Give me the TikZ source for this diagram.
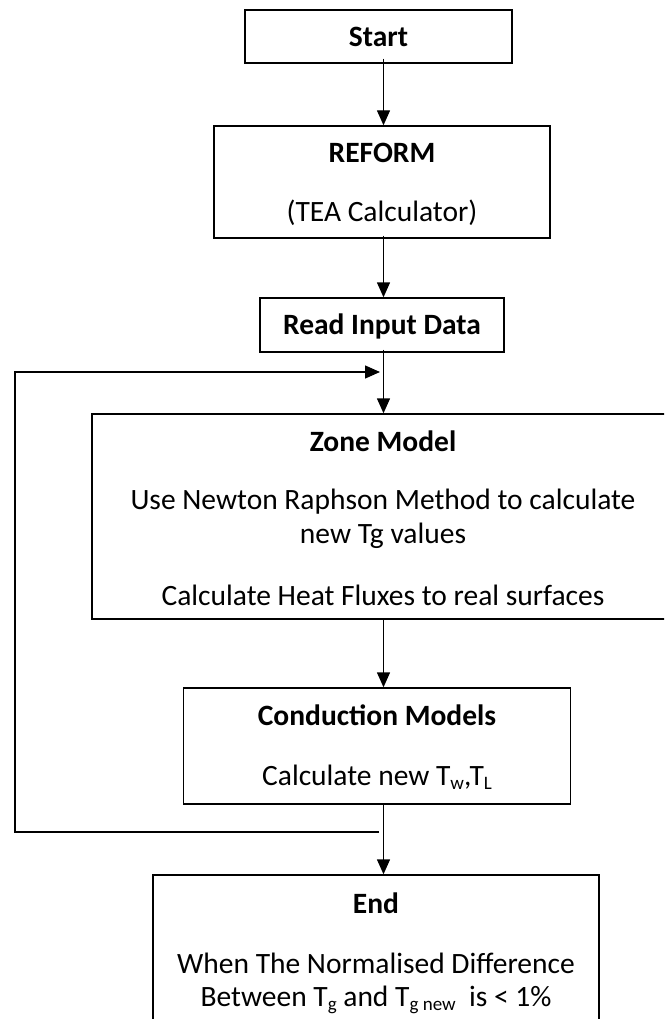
\documentclass[tikz,border=0pt]{standalone}
\usepackage{fontspec}
\setmainfont{Carlito}
\usetikzlibrary{arrows.meta}
\newcommand{\lowsub}[1]{\raisebox{-0.35ex}{\fontsize{19}{20}\selectfont #1}}
\tikzset{
  box/.style={draw, line width=1.4pt, inner sep=0pt, fill=white},
  txt/.style={font=\fontsize{29.5}{33}\selectfont, inner sep=0pt, anchor=center},
  ttl/.style={font=\fontsize{29.5}{33}\selectfont\bfseries, inner sep=0pt, anchor=center},
  flow/.style={line width=1.4pt, -{Triangle[length=15pt,width=13pt]}},
  loopline/.style={line width=1.4pt}
}
\begin{document}
\begin{tikzpicture}[x=1pt,y=-1pt]
\useasboundingbox (0,0) rectangle (664,1019);
\clip (0,0) rectangle (664,1019);
\fill[white] (0,0) rectangle (664,1019);
\coordinate (ax) at (383.5,0);
% boxes
\node[box, minimum width=267pt, minimum height=53pt] (start) at (378.5,36.5) {};
\node[box, minimum width=336pt, minimum height=112pt] (reform) at (382,182) {};
\node[box, minimum width=244pt, minimum height=54pt] (read) at (382,325) {};
\node[box, minimum width=582pt, minimum height=205pt] (zone) at (383,516.5) {};
\node[box, minimum width=387pt, minimum height=116pt] (cond) at (377,746) {};
\node[box, minimum width=446pt, minimum height=170pt] (end) at (376,960) {};
% texts
\node[ttl] (tstart) at (378.5,37) {Start};
\node[ttl] (treform) at (382,153) {REFORM};
\node[txt] (ttea) at (382,213) {(TEA Calculator)};
\node[ttl] (tread) at (382,326) {Read Input Data};
\node[ttl] (tzone) at (383,441) {Zone Model};
\node[txt] (tz1) at (383,502) {Use Newton Raphson Method to calculate};
\node[txt] (tz2) at (383,536) {new Tg values};
\node[txt] (tz3) at (383,595) {Calculate Heat Fluxes to real surfaces};
\node[ttl] (tcond) at (377,715) {Conduction Models};
\node[txt, anchor=base] (tc1) at (377,785) {Calculate new T\lowsub{w},T\lowsub{L}};
\node[ttl] (tend) at (376,903) {End};
\node[txt] (te1) at (376,963) {When The Normalised Difference};
\node[txt, anchor=base] (te2) at (376,1006) {Between T\lowsub{g} and T\lowsub{g new}\ \ is {<} 1\%};
% connectors
\draw[flow] ([yshift=5pt]start.south -| ax) -- (reform.north -| ax);
\draw[flow] ([yshift=3pt]reform.south -| ax) -- (read.north -| ax);
\draw[flow] ([yshift=3pt]read.south -| ax) -- (zone.north -| ax);
\draw[flow] (zone.south -| ax) -- (cond.north -| ax);
\draw[flow] (cond.south -| ax) -- (end.north -| ax);
% loop back
\coordinate (lb) at (379,832);
\coordinate (lt) at (380,372);
\draw[loopline, -{Triangle[length=15pt,width=13pt]}] (lb) -- (15,832) -- (15,372) -- (lt);
\end{tikzpicture}
\end{document}
